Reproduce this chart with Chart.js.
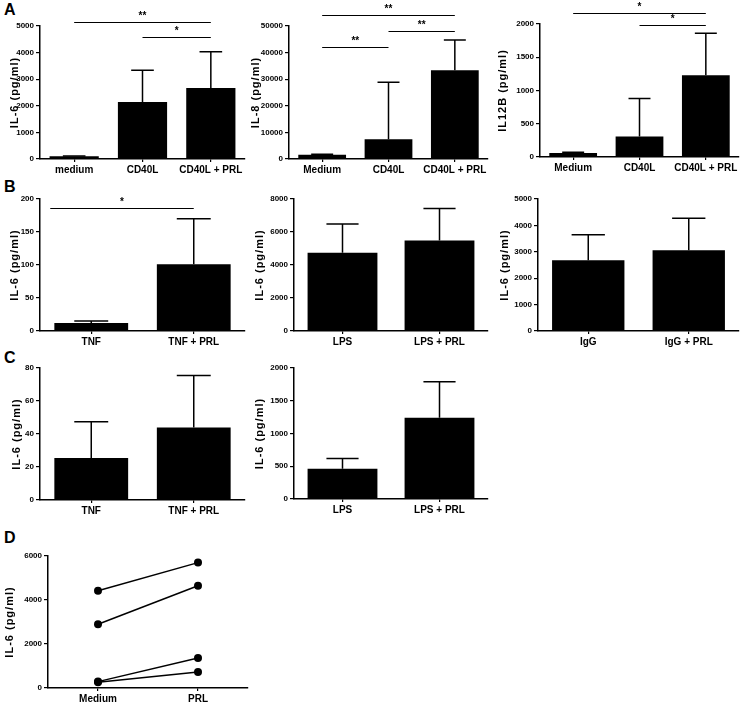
<!DOCTYPE html>
<html>
<head>
<meta charset="utf-8">
<script src="https://cdn.jsdelivr.net/npm/chart.js@4.4.1/dist/chart.umd.min.js"></script>
<style>
	body { margin: 0; background: #fff; }
	#fig { position: relative; width: 740px; height: 705px; overflow: hidden; }
	#fig canvas { position: absolute; }
	.tag { position: absolute; font: bold 16px 'Liberation Sans', Arial, sans-serif; line-height: 16px; color: #000; }
</style>
</head>
<body>
<div id="fig">
	<div class="tag" style="left:4px;top:2px">A</div>
	<div class="tag" style="left:4px;top:179px">B</div>
	<div class="tag" style="left:4px;top:350px">C</div>
	<div class="tag" style="left:4px;top:530px">D</div>

	<canvas id="a1" width="250" height="180" style="left:0;top:0"></canvas>
	<canvas id="a2" width="250" height="180" style="left:240px;top:0"></canvas>
	<canvas id="a3" width="250" height="180" style="left:490px;top:0"></canvas>
	<canvas id="b1" width="250" height="170" style="left:0;top:180px"></canvas>
	<canvas id="b2" width="250" height="170" style="left:240px;top:180px"></canvas>
	<canvas id="b3" width="250" height="170" style="left:490px;top:180px"></canvas>
	<canvas id="c1" width="250" height="180" style="left:0;top:340px"></canvas>
	<canvas id="c2" width="250" height="180" style="left:240px;top:340px"></canvas>
	<canvas id="d1" width="260" height="185" style="left:0;top:520px"></canvas>
</div>

<script>
// ===================== Data =====================

// A: CD40L stimulation
const a1Labels = ['medium', 'CD40L', 'CD40L + PRL'];
const a1Mean = [100, 2140, 2670];
const a1Upper = [110, 3340, 4030];

const a2Labels = ['Medium', 'CD40L', 'CD40L + PRL'];
const a2Mean = [1600, 7400, 33400];
const a2Upper = [1800, 28900, 44700];

const a3Labels = ['Medium', 'CD40L', 'CD40L + PRL'];
const a3Mean = [60, 310, 1230];
const a3Upper = [70, 880, 1860];

// B
const b1Labels = ['TNF', 'TNF + PRL'];
const b1Mean = [12, 101];
const b1Upper = [15, 170];

const b2Labels = ['LPS', 'LPS + PRL'];
const b2Mean = [4750, 5480];
const b2Upper = [6480, 7430];

const b3Labels = ['IgG', 'IgG + PRL'];
const b3Mean = [2680, 3060];
const b3Upper = [3650, 4270];

// C
const c1Labels = ['TNF', 'TNF + PRL'];
const c1Mean = [25.5, 44];
const c1Upper = [47.5, 75.5];

const c2Labels = ['LPS', 'LPS + PRL'];
const c2Mean = [460, 1240];
const c2Upper = [620, 1790];

// D: paired donors
const dLabels = ['Medium', 'PRL'];
const dDonor1 = [4420, 5700];
const dDonor2 = [2900, 4650];
const dDonor3 = [290, 1360];
const dDonor4 = [260, 730];

// significance bars: [from category, to category, height, label]
const a1Sig = [[0, 2, 5150, '**'], [1, 2, 4590, '*']];
const a2Sig = [[0, 2, 54100, '**'], [1, 2, 48100, '**'], [0, 1, 42100, '**']];
const a3Sig = [[0, 2, 2165, '*'], [1, 2, 1985, '*']];
const b1Sig = [[-0.4, 1, 186, '*']];

// ===================== Plugins =====================

const FONT = "'Liberation Sans', Arial, sans-serif";
Chart.defaults.font.family = FONT;
Chart.defaults.color = '#000';

const errorBars = {
	id: 'errorBars',
	afterDatasetsDraw(chart, args, opts) {
		if (!opts.upper) return;
		const ctx = chart.ctx;
		const y = chart.scales.y;
		const meta = chart.getDatasetMeta(0);
		ctx.save();
		ctx.strokeStyle = '#000';
		ctx.lineWidth = 1.5;
		meta.data.forEach((bar, i) => {
			const top = y.getPixelForValue(opts.upper[i]);
			const half = bar.width * 0.23;
			ctx.beginPath();
			ctx.moveTo(bar.x, bar.y);
			ctx.lineTo(bar.x, top);
			ctx.moveTo(bar.x - half, top);
			ctx.lineTo(bar.x + half, top);
			ctx.stroke();
		});
		ctx.restore();
	},
};

const sigBars = {
	id: 'sigBars',
	afterDraw(chart, args, opts) {
		if (!opts.list) return;
		const ctx = chart.ctx;
		const x = chart.scales.x;
		const y = chart.scales.y;
		ctx.save();
		ctx.strokeStyle = '#000';
		ctx.fillStyle = '#000';
		ctx.lineWidth = 1;
		ctx.font = 'bold 10px ' + FONT;
		ctx.textAlign = 'center';
		ctx.textBaseline = 'bottom';
		opts.list.forEach(([from, to, v, txt]) => {
			const x1 = x.getPixelForValue(from);
			const x2 = x.getPixelForValue(to);
			const yy = Math.round(y.getPixelForValue(v)) + 0.5;
			ctx.beginPath();
			ctx.moveTo(x1, yy);
			ctx.lineTo(x2, yy);
			ctx.stroke();
			ctx.fillText(txt, (x1 + x2) / 2, yy - 1);
		});
		ctx.restore();
	},
};

// y axis title, drawn with a little letter spacing like the figure
const yTitle = {
	id: 'yTitle',
	afterDraw(chart, args, opts) {
		if (!opts.text) return;
		const ctx = chart.ctx;
		const area = chart.chartArea;
		ctx.save();
		ctx.fillStyle = '#000';
		ctx.font = 'bold 11px ' + FONT;
		ctx.letterSpacing = '1px';
		ctx.textAlign = 'center';
		ctx.textBaseline = 'middle';
		ctx.translate(opts.x, (area.top + area.bottom) / 2);
		ctx.rotate(-Math.PI / 2);
		ctx.fillText(opts.text, 0, 0);
		ctx.restore();
	},
};

Chart.register(errorBars, sigBars, yTitle);

// ===================== Chart builders =====================

function axes(yMax, yStep, box) {
	return {
		x: {
			offset: true,
			ticks: { font: { size: 10, weight: 'bold' }, padding: 2, maxRotation: 0, autoSkip: false },
			grid: { offset: false, drawOnChartArea: false, tickLength: 3, color: '#000', lineWidth: 1.2 },
			border: { color: '#000', width: 1.5 },
			afterFit: (s) => { s.height = box.xh; },
		},
		y: {
			min: 0,
			max: yMax,
			ticks: { stepSize: yStep, font: { size: 8, weight: 'bold' }, padding: 2, callback: (v) => v },
			grid: { drawOnChartArea: false, tickLength: 4, color: '#000', lineWidth: 1.2 },
			border: { color: '#000', width: 1.5 },
			afterFit: (s) => { s.width = box.yw; },
		},
	};
}

function barChart(id, labels, mean, upper, yMax, yStep, title, sig, box) {
	return new Chart(document.getElementById(id), {
		type: 'bar',
		data: {
			labels: labels,
			datasets: [{ data: mean, backgroundColor: '#000', borderWidth: 0 }],
		},
		options: {
			responsive: false,
			animation: false,
			layout: { padding: { top: box.top, right: box.right, left: 0, bottom: 0 } },
			scales: axes(yMax, yStep, box),
			plugins: {
				legend: { display: false },
				tooltip: { enabled: false },
				errorBars: { upper: upper },
				sigBars: { list: sig },
				yTitle: { text: title, x: box.tx },
			},
		},
	});
}

barChart('a1', a1Labels, a1Mean, a1Upper, 5000, 1000, 'IL-6 (pg/ml)', a1Sig,
	{ yw: 40, top: 26, right: 5, xh: 21, tx: 15 });
barChart('a2', a2Labels, a2Mean, a2Upper, 50000, 10000, 'IL-8 (pg/ml)', a2Sig,
	{ yw: 49, top: 26, right: 2, xh: 21, tx: 16 });
barChart('a3', a3Labels, a3Mean, a3Upper, 2000, 500, 'IL12B (pg/ml)', a3Sig,
	{ yw: 50, top: 24, right: 1, xh: 23, tx: 13 });

barChart('b1', b1Labels, b1Mean, b1Upper, 200, 50, 'IL-6 (pg/ml)', b1Sig,
	{ yw: 40, top: 19, right: 5, xh: 19, tx: 15 });
barChart('b2', b2Labels, b2Mean, b2Upper, 8000, 2000, 'IL-6 (pg/ml)', null,
	{ yw: 54, top: 19, right: 2, xh: 19, tx: 20 });
barChart('b3', b3Labels, b3Mean, b3Upper, 5000, 1000, 'IL-6 (pg/ml)', null,
	{ yw: 48, top: 19, right: 1, xh: 19, tx: 15 });

barChart('c1', c1Labels, c1Mean, c1Upper, 80, 20, 'IL-6 (pg/ml)', null,
	{ yw: 40, top: 28, right: 5, xh: 20, tx: 17 });
barChart('c2', c2Labels, c2Mean, c2Upper, 2000, 500, 'IL-6 (pg/ml)', null,
	{ yw: 54, top: 28, right: 2, xh: 21, tx: 20 });

// D: paired line plot
const dBox = { yw: 48, top: 36, right: 12, xh: 17, tx: 10 };
const donorLine = (data) => ({
	data: data,
	borderColor: '#000',
	borderWidth: 1.5,
	pointRadius: 4,
	pointBackgroundColor: '#000',
	pointBorderWidth: 0,
});

const pairedChart = new Chart(document.getElementById('d1'), {
	type: 'line',
	data: {
		labels: dLabels,
		datasets: [donorLine(dDonor1), donorLine(dDonor2), donorLine(dDonor3), donorLine(dDonor4)],
	},
	options: {
		responsive: false,
		animation: false,
		layout: { padding: { top: dBox.top, right: dBox.right, left: 0, bottom: 0 } },
		scales: axes(6000, 2000, dBox),
		plugins: {
			legend: { display: false },
			tooltip: { enabled: false },
			yTitle: { text: 'IL-6 (pg/ml)', x: dBox.tx },
		},
	},
});
</script>
</body>
</html>
